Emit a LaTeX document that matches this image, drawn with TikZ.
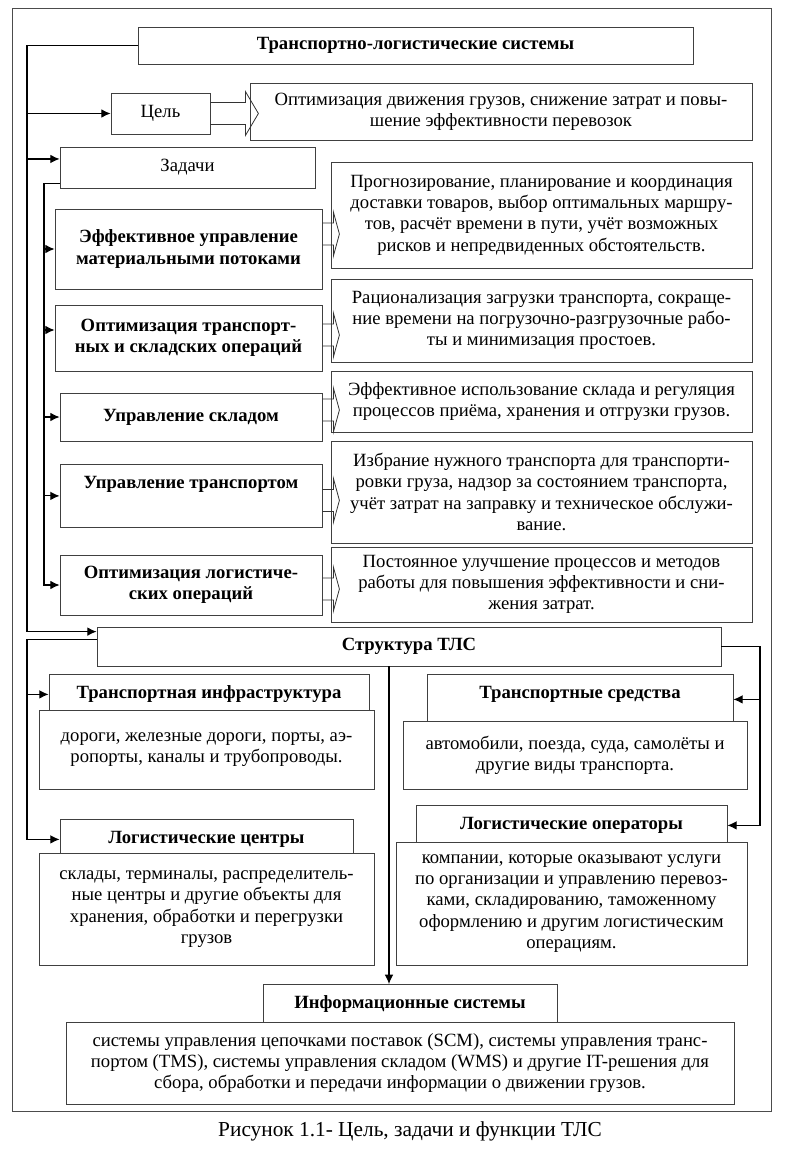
\documentclass[tikz,border=0pt]{standalone}
\usepackage{fontspec}
\setmainfont{Liberation Serif}
\usetikzlibrary{arrows.meta}

\newcommand{\fatarrow}[4]{%
  \draw[hollow, shift={(#1.east)}, shift={(0,#2)}]
    (0,-11) -- (#3,-11) -- (#3,-22) -- (#4,0) -- (#3,22) -- (#3,11) -- (0,11);}

\begin{document}
\begin{tikzpicture}[x=0.75pt, y=-0.75pt, >={Latex[length=7pt,width=6.5pt]},
    box/.style={draw=black!75, line width=0.6pt, inner sep=0pt, align=center, fill=white,
      font=\fontsize{14pt}{16pt}\selectfont},
    bold/.style={font=\fontsize{14pt}{16pt}\selectfont\bfseries},
    hdr/.style={box, bold, anchor=north, inner ysep=0pt, text height=18pt},
    link/.style={draw=black, line width=0.8pt},
    hollow/.style={draw=black!80, line width=0.6pt}]
    \useasboundingbox (0,0) rectangle (800,1157);
    \draw[draw=black!70, line width=0.6pt] (12,8) rectangle (771,1111);

    \node[box, bold, minimum width=416.25pt, minimum height=27.75pt] (title) at (415.5,45.5) {Транспортно-логистические системы};
    \node[box, minimum width=74.25pt, minimum height=30.75pt] (goal) at (160.5,113.5) {Цель};
    \node[box, minimum width=376.5pt, minimum height=42.75pt] (goaltext) at (501,111.5) {Оптимизация движения грузов, снижение затрат и повы-\\шение эффективности перевозок};
    \node[box, minimum width=191.25pt, minimum height=30.75pt] (tasks) at (187.5,167.5) {Задачи};

    \node[box, bold, minimum width=200.25pt, minimum height=60pt] (t1) at (188.5,249) {Эффективное управление\\материальными потоками};
    \node[box, bold, minimum width=200.25pt, minimum height=49.5pt] (t2) at (188.5,338) {Оптимизация транспорт-\\ных и складских операций};
    \node[box, bold, minimum width=196.5pt, minimum height=36pt] (t3) at (191,417) {Управление складом};
    \node[hdr, minimum width=196.5pt, text depth=29.25pt] (t4) at (191,464) {Управление транспортом};
    \node[box, bold, minimum width=196.5pt, minimum height=45pt] (t5) at (191,585) {Оптимизация логистиче-\\ских операций};

    \node[box, minimum width=315.75pt, minimum height=79.5pt] (d1) at (541.5,215) {Прогнозирование, планирование и координация\\доставки товаров, выбор оптимальных маршру-\\тов, расчёт времени в пути, учёт возможных\\рисков и непредвиденных обстоятельств.};
    \node[box, minimum width=315.75pt, minimum height=62.25pt] (d2) at (541.5,320.5) {Рационализация загрузки транспорта, сокраще-\\ние времени на погрузочно-разгрузочные рабо-\\ты и минимизация простоев.};
    \node[box, minimum width=315.75pt, minimum height=45.75pt] (d3) at (541.5,401.5) {Эффективное использование склада и регуляция\\процессов приёма, хранения и отгрузки грузов.};
    \node[box, minimum width=315.75pt, minimum height=76.5pt] (d4) at (541.5,492) {Избрание нужного транспорта для транспорти-\\ровки груза, надзор за состоянием транспорта,\\учёт затрат на заправку и техническое обслужи-\\вание.};
    \node[box, minimum width=315.75pt, minimum height=56.25pt] (d5) at (541.5,584.5) {Постоянное улучшение процессов и методов\\работы для повышения эффективности и сни-\\жения затрат.};

    \fatarrow{goal}{0}{35}{48}
    \fatarrow{t1}{-15}{11}{17}
    \fatarrow{t2}{-3}{11}{17}
    \fatarrow{t3}{-7}{11}{17}
    \fatarrow{t4}{4.5}{11}{17}
    \fatarrow{t5}{4}{11}{17}

    \node[box, bold, minimum width=468pt, minimum height=29.25pt] (struct) at (409,646.5) {Структура ТЛС};

    \node[hdr, minimum width=240pt, text depth=12pt] (infra) at (209,674) {Транспортная инфраструктура};
    \node[hdr, minimum width=229.5pt, text depth=19.5pt] (means) at (580,674) {Транспортные средства};
    \node[hdr, minimum width=219.75pt, text depth=12pt] (centers) at (206.5,819) {Логистические центры};
    \node[hdr, minimum width=233.25pt, text depth=12pt] (oper) at (571.5,805) {Логистические операторы};
    \node[hdr, minimum width=220.5pt, text depth=13.5pt] (info) at (410,984) {Информационные системы};

    \node[box, minimum width=251.25pt, minimum height=59.25pt] (infrab) at (206.5,749.5) {дороги, железные дороги, порты, аэ-\\ропорты, каналы и трубопроводы.};
    \node[box, minimum width=258pt, minimum height=51pt] (meansb) at (575,755) {автомобили, поезда, суда, самолёты и\\другие виды транспорта.};
    \node[box, minimum width=251.25pt, minimum height=84pt] (centersb) at (206.5,909) {склады, терминалы, распределитель-\\ные центры и другие объекты для\\хранения, обработки и перегрузки\\грузов};
    \node[box, minimum width=263.25pt, minimum height=92.25pt] (operb) at (571.5,903.5) {компании, которые оказывают услуги\\по организации и управлению перевоз-\\ками, складированию, таможенному\\оформлению и другим логистическим\\операциям.};
    \node[box, minimum width=501pt, minimum height=61.5pt] (infob) at (400,1063) {системы управления цепочками поставок (SCM), системы управления транс-\\портом (TMS), системы управления складом (WMS) и другие IT-решения для\\сбора, обработки и передачи информации о движении грузов.};

    \node[font=\fontsize{16pt}{18pt}\selectfont] (caption) at (410,1131) {Рисунок 1.1- Цель, задачи и функции ТЛС};

    \coordinate (lspine) at (27,0);
    \coordinate (tspine) at (44,0);
    \coordinate (rspine) at (760,0);
    \coordinate (cline) at (389,0);
    \coordinate (sin) at ([yshift=-3.75pt]struct.north west);
    \coordinate (sout) at ([yshift=-9.75pt]struct.north west);
    \coordinate (tin) at ([yshift=6.4pt]tasks.west);
    \coordinate (tout) at ([yshift=3.75pt]tasks.south west);
    \coordinate (t2in) at ([yshift=6pt]t2.west);

    \draw[link, ->] (title.west) -- (lspine |- title.west) -- (lspine |- sin) -- (sin);
    \draw[link, ->] (lspine |- goal.west) -- (goal.west);
    \draw[link, ->] (lspine |- tin) -- (tin);
    \draw[link, ->] (tout) -- (tspine |- tout) -- (tspine |- t5.west) -- (t5.west);
    \foreach \n in {t1,t3,t4}
        \draw[link, ->] (tspine |- \n.west) -- (\n.west);
    \draw[link, ->] (tspine |- t2in) -- (t2in);

    \draw[link, ->] (sout) -- (lspine |- sout) -- (lspine |- centers.west) -- (centers.west);
    \draw[link, ->] (lspine |- infra.west) -- (infra.west);
    \draw[link, ->] (struct.east) -- (rspine |- struct.east) -- (rspine |- oper.east) -- (oper.east);
    \draw[link, ->] (rspine |- means.east) -- (means.east);
    \draw[link, ->] (cline |- struct.south) -- (cline |- info.north);
\end{tikzpicture}
\end{document}
